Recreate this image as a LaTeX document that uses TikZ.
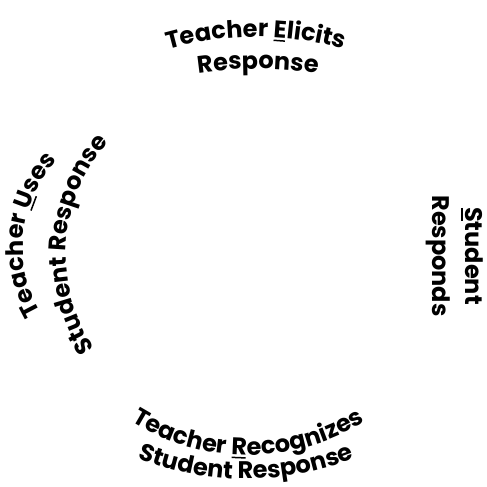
\documentclass[tikz,border=0pt]{standalone}
\usepackage{fontspec}
\setmainfont{Poppins}
\usetikzlibrary{decorations.text}
\newcommand\labfnt{\bfseries\fontsize{24}{29}\selectfont}
\newcommand\uln[1]{\setbox0\hbox{#1}\rlap{\kern0.6pt\rule[-3.6pt]{\dimexpr\wd0-1.6pt\relax}{1.5pt}}#1}
\tikzset{
  arclabel/.style={decorate, decoration={text along path, text align=center, text={#1}}},
  sidelabel/.style={font=\labfnt, rotate=-90, anchor=base, inner sep=0pt}
}
\begin{document}
\begin{tikzpicture}[x=1pt,y=1pt]
\useasboundingbox (0,0) rectangle (487,487);
% top: Teacher Elicits Response
\path[arclabel={|\labfnt|Teacher {\uln{E}}licits}]
  ([shift={(110:320)}]256,130) arc[start angle=110, end angle=70, radius=320];
\path[arclabel={|\labfnt|Response}]
  ([shift={(100:420)}]258,-2) arc[start angle=100, end angle=80, radius=420];
% bottom: Teacher Recognizes Student Response
\path[arclabel={|\labfnt|Teacher {\uln{R}}ecognizes}]
  ([shift={(230:220)}]248,252) arc[start angle=230, end angle=310, radius=220];
\path[arclabel={|\labfnt|Student Response}]
  ([shift={(240:290)}]246,298) arc[start angle=240, end angle=300, radius=290];
% left: Teacher Uses Student Response
\path[arclabel={|\labfnt|Teacher {\uln{U}}ses}]
  ([shift={(234:128)}]151,240) arc[start angle=234, end angle=114, radius=128];
\path[arclabel={|\labfnt|Student Response}]
  ([shift={(236:170)}]236,232) arc[start angle=236, end angle=116, radius=170];
% right: Student Responds
\node[sidelabel] (stu) at (465,231) {\uln{S}tudent};
\node[sidelabel] (resp) at (432,231) {Responds};
\end{tikzpicture}
\end{document}
